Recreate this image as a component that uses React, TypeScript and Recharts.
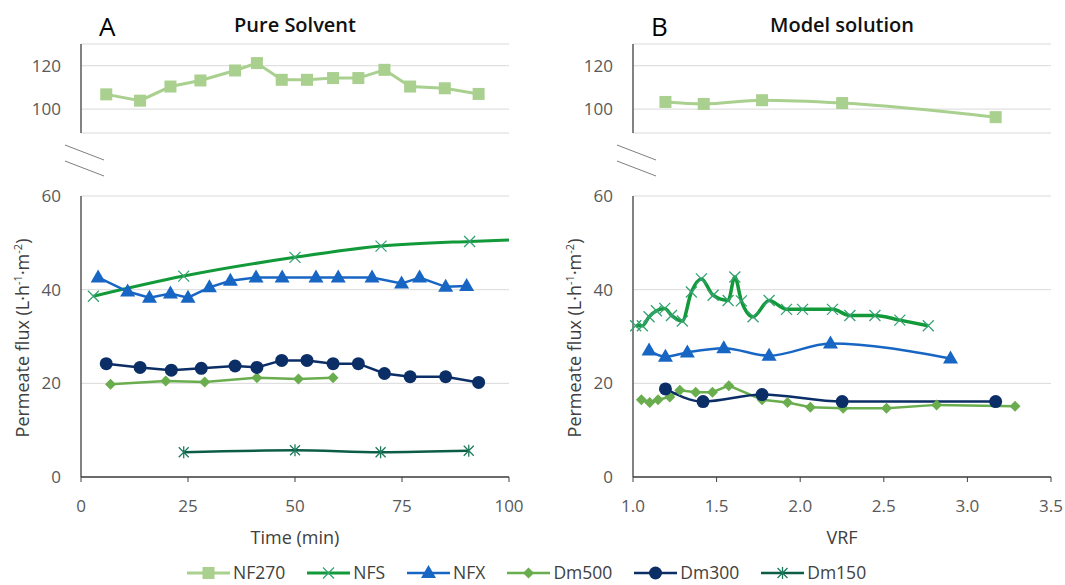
import { LineChart, Line, XAxis, YAxis, CartesianGrid } from 'recharts'

// ---- Panel A: pure solvent, flux vs time (min)
const nf270A_t = [5.9, 13.8, 20.9, 27.9, 36.0, 41.1, 46.9, 52.8, 58.9, 64.8, 70.9, 76.9, 85.0, 92.9]
const nf270A_flux = [106.8, 103.9, 110.4, 113.2, 117.8, 121.2, 113.5, 113.5, 114.3, 114.3, 118.1, 110.4, 109.6, 107.0]

const nfsA_t = [2.9, 24.0, 50.0, 70.1, 90.8]
const nfsA_flux = [38.6, 42.9, 46.9, 49.3, 50.3]
// fitted curve keeps going to the end of the axis
const nfsA_curveEnd = { x: 100, y: 50.6 }

const nfxA_t = [4.0, 10.9, 16.0, 20.9, 25.0, 30.0, 34.9, 40.9, 47.0, 54.9, 60.1, 68.0, 74.9, 79.1, 85.2, 90.1]
const nfxA_flux = [42.6, 39.6, 38.3, 39.2, 38.3, 40.5, 41.9, 42.6, 42.6, 42.6, 42.6, 42.6, 41.3, 42.6, 40.6, 40.8]

const dm500A_t = [6.9, 19.8, 28.9, 41.1, 50.8, 58.9]
const dm500A_flux = [19.8, 20.5, 20.3, 21.2, 20.9, 21.2]

const dm300A_t = [5.9, 13.8, 21.1, 28.1, 36.0, 41.1, 46.9, 52.8, 58.9, 64.8, 70.9, 76.9, 85.2, 92.9]
const dm300A_flux = [24.2, 23.4, 22.8, 23.2, 23.7, 23.4, 24.9, 24.9, 24.2, 24.2, 22.1, 21.4, 21.4, 20.2]

const dm150A_t = [24.0, 50.0, 70.0, 90.6]
const dm150A_flux = [5.3, 5.7, 5.3, 5.6]

// ---- Panel B: model solution, flux vs VRF
const nf270B_vrf = [1.194, 1.423, 1.772, 2.251, 3.169]
const nf270B_flux = [103.3, 102.4, 104.1, 102.8, 96.3]

const nfsB_vrf = [1.016, 1.056, 1.096, 1.14, 1.19, 1.23, 1.295, 1.349, 1.409, 1.479, 1.569, 1.609, 1.648, 1.718, 1.814, 1.918, 2.014, 2.193, 2.297, 2.447, 2.596, 2.766]
const nfsB_flux = [32.3, 32.3, 34.2, 35.5, 36.0, 34.5, 33.3, 39.5, 42.3, 38.8, 37.7, 42.7, 37.6, 34.2, 37.7, 35.8, 35.8, 35.8, 34.5, 34.5, 33.5, 32.3]

const nfxB_vrf = [1.096, 1.194, 1.325, 1.543, 1.814, 2.181, 2.899]
const nfxB_flux = [27.0, 25.7, 26.6, 27.5, 25.9, 28.5, 25.3]

const dm500B_vrf = [1.05, 1.10, 1.15, 1.22, 1.28, 1.375, 1.475, 1.573, 1.772, 1.924, 2.061, 2.257, 2.516, 2.816, 3.285]
const dm500B_flux = [16.5, 15.9, 16.5, 17.1, 18.5, 18.1, 18.1, 19.5, 16.5, 15.9, 14.9, 14.7, 14.7, 15.4, 15.1]

const dm300B_vrf = [1.194, 1.419, 1.772, 2.251, 3.169]
const dm300B_flux = [18.8, 16.1, 17.6, 16.1, 16.1]

const timeTicks = [0, 25, 50, 75, 100]
const vrfTicks = [1.0, 1.5, 2.0, 2.5, 3.0, 3.5]
const fluxTicks = [0, 20, 40, 60]
const highFluxTicks = [100, 120]

type Shape = 'square' | 'x' | 'triangle' | 'diamond' | 'circle' | 'star'
type Pt = { x: number; y: number; noMark?: boolean }

const pts = (xs: number[], ys: number[]): Pt[] => xs.map((x, i) => ({ x, y: ys[i] }))

const STYLE: Record<string, { color: string; mark: string; shape: Shape; width: number }> = {
  NF270: { color: '#A9D08E', mark: '#A9D08E', shape: 'square', width: 3 },
  NFS: { color: '#129A3A', mark: '#36A273', shape: 'x', width: 3 },
  NFX: { color: '#1866C4', mark: '#1866C4', shape: 'triangle', width: 2.5 },
  Dm500: { color: '#6AAD4E', mark: '#6AAD4E', shape: 'diamond', width: 2.5 },
  Dm300: { color: '#0B2E66', mark: '#0B2E66', shape: 'circle', width: 2.5 },
  Dm150: { color: '#0D5C45', mark: '#1E7A5C', shape: 'star', width: 2.5 },
}
const LEGEND = ['NF270', 'NFS', 'NFX', 'Dm500', 'Dm300', 'Dm150']

function Marker({ shape, cx, cy, color }: { shape: Shape; cx: number; cy: number; color: string }) {
  switch (shape) {
    case 'square':
      return <rect x={cx - 6} y={cy - 6} width={12} height={12} fill={color} />
    case 'circle':
      return <circle cx={cx} cy={cy} r={6.5} fill={color} />
    case 'triangle':
      return <path d={`M${cx},${cy - 8}L${cx + 7.5},${cy + 5}L${cx - 7.5},${cy + 5}Z`} fill={color} />
    case 'diamond':
      return <path d={`M${cx},${cy - 5.5}L${cx + 5.5},${cy}L${cx},${cy + 5.5}L${cx - 5.5},${cy}Z`} fill={color} />
    case 'x':
      return <path d={`M${cx - 5.5},${cy - 5.5}L${cx + 5.5},${cy + 5.5}M${cx + 5.5},${cy - 5.5}L${cx - 5.5},${cy + 5.5}`} stroke={color} strokeWidth={1.3} fill="none" />
    default:
      return <path d={`M${cx - 5},${cy - 5}L${cx + 5},${cy + 5}M${cx + 5},${cy - 5}L${cx - 5},${cy + 5}M${cx},${cy - 6}L${cx},${cy + 6}`} stroke={color} strokeWidth={1.3} fill="none" />
  }
}

interface Series { name: string; data: Pt[]; curve: 'linear' | 'monotone'; width?: number }

function seriesLine(s: Series) {
  const st = STYLE[s.name]
  return (
    <Line
      key={s.name}
      data={s.data}
      dataKey="y"
      type={s.curve}
      stroke={st.color}
      strokeWidth={s.width ?? st.width}
      isAnimationActive={false}
      activeDot={false}
      dot={(p: any) => (
        <g key={`${s.name}-${p.index}`}>
          {!p.payload?.noMark && <Marker shape={st.shape} cx={p.cx} cy={p.cy} color={st.mark} />}
        </g>
      )}
    />
  )
}

const tickStyle = { fontSize: 17, fill: '#595959' }
const AXIS = '#404040'

interface PanelProps {
  left: number
  letter: string
  title: string
  xTitle: string
  xDomain: [number, number]
  xTicks: number[]
  xFmt: (v: number) => string
  top: Series[]
  bottom: Series[]
}

function Panel({ left, letter, title, xTitle, xDomain, xTicks, xFmt, top, bottom }: PanelProps) {
  const w = left === 0 ? 530 : 513
  const right = left === 0 ? 21 : 14
  const plotMid = left + 81 + (w - right - 81) / 2
  return (
    <>
      <div style={{ position: 'absolute', left, top: 0 }}>
        <LineChart width={w} height={140} margin={{ top: 44, right, bottom: 7, left: 0 }}>
          <CartesianGrid vertical={false} stroke="#D9D9D9" />
          <XAxis dataKey="x" type="number" domain={xDomain} hide />
          <YAxis type="number" domain={[89, 130]} ticks={highFluxTicks} width={81}
            tick={tickStyle} tickLine={false} tickSize={0} tickMargin={20}
            axisLine={{ stroke: AXIS, strokeWidth: 1.3 }} />
          {top.map(seriesLine)}
        </LineChart>
      </div>
      <div style={{ position: 'absolute', left, top: 0 }}>
        <LineChart width={w} height={520} margin={{ top: 196, right, bottom: 0, left: 0 }}>
          <CartesianGrid vertical={false} stroke="#D9D9D9" />
          <XAxis dataKey="x" type="number" domain={xDomain} ticks={xTicks} height={43}
            tickFormatter={xFmt} tick={tickStyle} tickSize={5} tickMargin={18}
            tickLine={{ stroke: AXIS }} axisLine={{ stroke: AXIS, strokeWidth: 1.3 }} />
          <YAxis type="number" domain={[0, 60]} ticks={fluxTicks} width={81}
            tick={tickStyle} tickLine={false} tickSize={0} tickMargin={20}
            axisLine={{ stroke: AXIS, strokeWidth: 1.3 }} />
          {bottom.map(seriesLine)}
        </LineChart>
      </div>
      {/* axis break marks */}
      <svg style={{ position: 'absolute', left: left + 64, top: 144 }} width={42} height={34}>
        <line x1={1} y1={1} x2={40} y2={16} stroke="#7F7F7F" strokeWidth={1} />
        <line x1={1} y1={17} x2={40} y2={32} stroke="#7F7F7F" strokeWidth={1} />
      </svg>
      <div style={{ position: 'absolute', left: left + 99, top: 9, fontSize: 26, lineHeight: '34px', color: '#000' }}>{letter}</div>
      <div style={{ position: 'absolute', left: plotMid, top: 11, transform: 'translateX(-50%)', fontSize: 20, lineHeight: '28px', fontWeight: 600, color: '#111', whiteSpace: 'nowrap' }}>
        {title}
      </div>
      <div style={{ position: 'absolute', left: plotMid, top: 525, transform: 'translateX(-50%)', fontSize: 18, lineHeight: '25px', color: '#404040', whiteSpace: 'nowrap' }}>
        {xTitle}
      </div>
      <div style={{ position: 'absolute', left: left + 22, top: 338, transform: 'translate(-50%, -50%) rotate(-90deg)', fontSize: 18, color: '#404040', whiteSpace: 'nowrap' }}>
        Permeate flux (L·h<sup style={{ fontSize: 11 }}>-1</sup>·m<sup style={{ fontSize: 11 }}>-2</sup>)
      </div>
    </>
  )
}

function LegendRow() {
  return (
    <div style={{ position: 'absolute', left: 187, top: 561, height: 23, display: 'flex', alignItems: 'center', gap: 22, fontSize: 17.5, lineHeight: '23px', color: '#404040' }}>
      {LEGEND.map(name => {
        const st = STYLE[name]
        return (
          <div key={name} style={{ display: 'flex', alignItems: 'center', gap: 3 }}>
            <svg width={43} height={16}>
              <line x1={0} y1={8} x2={43} y2={8} stroke={st.color} strokeWidth={st.width} />
              <Marker shape={st.shape} cx={21.5} cy={8} color={st.mark} />
            </svg>
            <span>{name}</span>
          </div>
        )
      })}
    </div>
  )
}

export default function App() {
  const panelA = {
    top: [{ name: 'NF270', data: pts(nf270A_t, nf270A_flux), curve: 'linear' as const }],
    bottom: [
      { name: 'NFS', data: [...pts(nfsA_t, nfsA_flux), { ...nfsA_curveEnd, noMark: true }], curve: 'monotone' as const },
      { name: 'NFX', data: pts(nfxA_t, nfxA_flux), curve: 'linear' as const },
      { name: 'Dm500', data: pts(dm500A_t, dm500A_flux), curve: 'linear' as const },
      { name: 'Dm300', data: pts(dm300A_t, dm300A_flux), curve: 'linear' as const },
      { name: 'Dm150', data: pts(dm150A_t, dm150A_flux), curve: 'monotone' as const },
    ],
  }
  const panelB = {
    top: [{ name: 'NF270', data: pts(nf270B_vrf, nf270B_flux), curve: 'monotone' as const }],
    bottom: [
      { name: 'NFS', data: pts(nfsB_vrf, nfsB_flux), curve: 'monotone' as const, width: 3.5 },
      { name: 'NFX', data: pts(nfxB_vrf, nfxB_flux), curve: 'monotone' as const },
      { name: 'Dm500', data: pts(dm500B_vrf, dm500B_flux), curve: 'linear' as const },
      { name: 'Dm300', data: pts(dm300B_vrf, dm300B_flux), curve: 'monotone' as const },
    ],
  }

  return (
    <div style={{ position: 'absolute', left: 0, top: 0, width: 1065, height: 585, background: '#fff', fontFamily: "'Open Sans', sans-serif", overflow: 'hidden' }}>
      <Panel left={0} letter="A" title="Pure Solvent" xTitle="Time (min)" xDomain={[0, 100]}
        xTicks={timeTicks} xFmt={v => String(v)} top={panelA.top} bottom={panelA.bottom} />
      <Panel left={552} letter="B" title="Model solution" xTitle="VRF" xDomain={[1, 3.5]}
        xTicks={vrfTicks} xFmt={v => v.toFixed(1)} top={panelB.top} bottom={panelB.bottom} />
      <LegendRow />
    </div>
  )
}
